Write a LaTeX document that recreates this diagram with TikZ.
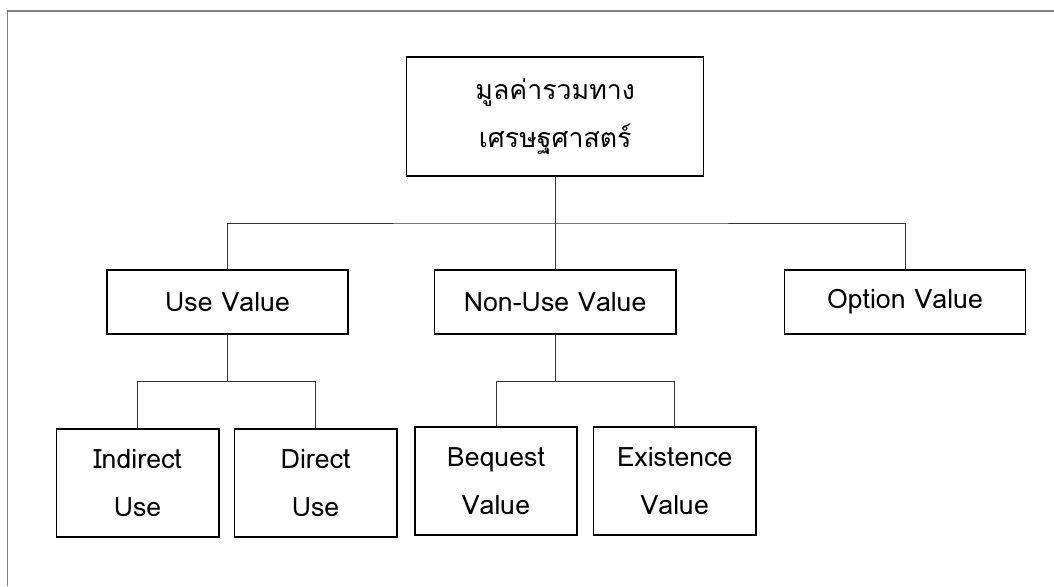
\documentclass[tikz,border=0pt]{standalone}
\usepackage{fontspec}
\usepackage{tikz}
\setmainfont[Script=Thai]{Loma}
\newfontfamily\thaifont[Script=Thai]{Loma}

\begin{document}
\begin{tikzpicture}[
     valbox/.style={draw=black, line width=1.1pt, align=center, inner sep=0pt,
       font=\thaifont\fontsize{19}{34}\selectfont},
     topbox/.style={valbox, minimum width=7.425cm, minimum height=2.975cm},
     midbox/.style={valbox, minimum width=6.03cm, minimum height=1.6cm},
     leafbox/.style={valbox, minimum width=4.06cm, minimum height=2.7cm},
     link/.style={draw=black!80, line width=0.7pt}
   ]
     \useasboundingbox (0,0) rectangle (26.35,-14.65);
     \draw[black!50, line width=1.4pt] (0.1875,-14.65) -- (0.1875,-0.275) -- (26.35,-0.275);

     \node[topbox] (total) at (13.88,-2.91) {มูลค่ารวมทาง\\เศรษฐศาสตร์};

     \node[midbox] (use)    at (5.69,-7.55)   {Use Value};
     \node[midbox] (nonuse) at (13.88,-7.55)  {Non-Use Value};
     \node[midbox] (option) at (22.625,-7.55) {Option Value};

     \node[leafbox] (indirect)  at (3.44,-12.075)  {Indirect\\Use};
     \node[leafbox] (direct)    at (7.89,-12.075)  {Direct\\Use};
     \node[leafbox] (bequest)   at (12.4,-12.025)  {Bequest\\Value};
     \node[leafbox] (existence) at (16.87,-12.025) {Existence\\Value};

     \coordinate (topbar)    at (13.88,-5.575);
     \coordinate (usebar)    at (5.69,-9.525);
     \coordinate (nonusebar) at (13.88,-9.525);

     \path[link] (total) -- (nonuse);
     \path[link] (use.north) |- (topbar) -| (option.north);
     \path[link] (use) -- (usebar);
     \path[link] (indirect.north) |- (usebar) -| (direct.north);
     \path[link] (nonuse) -- (nonusebar);
     \path[link] (bequest.north) |- (nonusebar) -| (existence.north);
    \end{tikzpicture}
\end{document}
